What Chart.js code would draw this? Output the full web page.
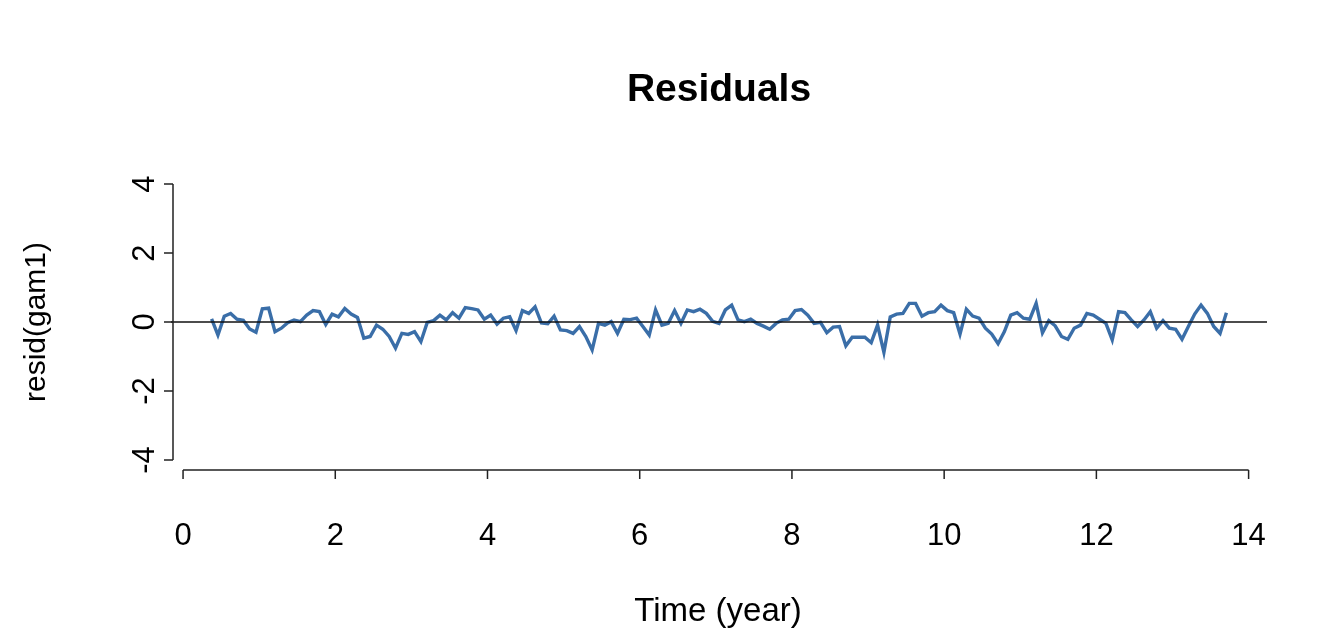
<!DOCTYPE html>
<html>
<head>
<meta charset="utf-8">
<script src="https://cdn.jsdelivr.net/npm/chart.js@4.4.1/dist/chart.umd.min.js"></script>
<style>
html,body{margin:0;padding:0;background:#fff;}
#wrap{width:1335px;height:636px;position:relative;}
</style>
</head>
<body>
<div id="wrap"><canvas id="c" width="1335" height="636"></canvas></div>
<script>
// ---- data ----
const chartTitle = "Residuals";
const xTitle = "Time (year)";
const yTitle = "resid(gam1)";
const xTicks = [0, 2, 4, 6, 8, 10, 12, 14];
const yTicks = [-4, -2, 0, 2, 4];
const startYear = 0.375;          // first observation (years)
const monthStep = 1 / 12;         // monthly observations
const residuals = [
  0.09,-0.38,0.17,0.25,0.08,0.05,-0.20,-0.30,0.38,0.40,-0.28,-0.18,
  -0.02,0.06,0.01,0.20,0.33,0.30,-0.07,0.23,0.15,0.39,0.23,0.13,
  -0.47,-0.42,-0.09,-0.21,-0.42,-0.76,-0.33,-0.36,-0.28,-0.57,-0.01,0.04,
  0.20,0.06,0.27,0.11,0.42,0.39,0.35,0.08,0.20,-0.06,0.11,0.15,
  -0.25,0.33,0.25,0.44,-0.03,-0.05,0.17,-0.23,-0.25,-0.33,-0.13,-0.42,
  -0.81,-0.04,-0.09,0.01,-0.33,0.08,0.07,0.11,-0.13,-0.38,0.35,-0.09,
  -0.04,0.33,-0.04,0.35,0.30,0.37,0.25,0.02,-0.04,0.35,0.49,0.06,
  0.01,0.08,-0.04,-0.12,-0.21,-0.04,0.06,0.08,0.33,0.36,0.20,-0.04,
  -0.01,-0.31,-0.15,-0.13,-0.69,-0.44,-0.44,-0.44,-0.60,-0.09,-0.88,0.15,
  0.23,0.25,0.54,0.54,0.17,0.27,0.30,0.49,0.33,0.27,-0.35,0.37,
  0.17,0.11,-0.18,-0.35,-0.63,-0.28,0.20,0.27,0.11,0.08,0.54,-0.31,
  0.04,-0.11,-0.42,-0.50,-0.18,-0.09,0.25,0.20,0.08,-0.04,-0.52,0.30,
  0.27,0.06,-0.13,0.06,0.30,-0.18,0.04,-0.18,-0.21,-0.50,-0.13,0.23,
  0.49,0.25,-0.13,-0.33,0.27
];
const refLineValue = 0;

// ---- build ----
const points = residuals.map((v, i) => ({ x: startYear + i * monthStep, y: v }));
const tFirst = points[0].x, tLast = points[points.length - 1].x;
const xPad = (tLast - tFirst) * 0.04;
const xMin = tFirst - xPad, xMax = tLast + xPad;
const yMin = -4.32, yMax = 4.32;

const FONT = '"Liberation Sans", Arial, Helvetica, sans-serif';

const rAxes = {
  id: 'rAxes',
  afterDraw(chart) {
    const ctx = chart.ctx;
    const xs = chart.scales.x, ys = chart.scales.y;
    const area = chart.chartArea;
    ctx.save();
    ctx.strokeStyle = '#222';
    ctx.fillStyle = '#000';
    ctx.lineWidth = 1.5;
    // y axis
    const ax = area.left + 2;
    ctx.beginPath();
    ctx.moveTo(ax, ys.getPixelForValue(yTicks[yTicks.length - 1]));
    ctx.lineTo(ax, ys.getPixelForValue(yTicks[0]));
    yTicks.forEach(v => {
      const p = ys.getPixelForValue(v);
      ctx.moveTo(ax, p); ctx.lineTo(ax - 9, p);
    });
    ctx.stroke();
    ctx.font = '31px ' + FONT;
    ctx.textAlign = 'center';
    ctx.textBaseline = 'middle';
    yTicks.forEach(v => {
      const p = ys.getPixelForValue(v);
      ctx.save();
      ctx.translate(ax - 28, p);
      ctx.rotate(-Math.PI / 2);
      ctx.fillText(String(v), 0, 0);
      ctx.restore();
    });
    // x axis
    const ay = area.bottom - 1;
    ctx.beginPath();
    ctx.moveTo(xs.getPixelForValue(xTicks[0]), ay);
    ctx.lineTo(xs.getPixelForValue(xTicks[xTicks.length - 1]), ay);
    xTicks.forEach(v => {
      const p = xs.getPixelForValue(v);
      ctx.moveTo(p, ay); ctx.lineTo(p, ay + 9);
    });
    ctx.stroke();
    xTicks.forEach(v => {
      ctx.fillText(String(v), xs.getPixelForValue(v), ay + 66);
    });
    // titles
    ctx.font = '33px ' + FONT;
    ctx.fillText(xTitle, (area.left + area.right) / 2 - 1, 612);
    ctx.save();
    ctx.translate(37, (area.top + area.bottom) / 2);
    ctx.rotate(-Math.PI / 2);
    ctx.font = '30px ' + FONT;
    ctx.fillText(yTitle, 0, 0);
    ctx.restore();
    ctx.font = 'bold 39px ' + FONT;
    ctx.fillText(chartTitle, (area.left + area.right) / 2, 90);
    ctx.restore();
  }
};

new Chart(document.getElementById('c'), {
  type: 'line',
  data: {
    datasets: [
      {
        label: 'zero',
        data: [{ x: xMin, y: refLineValue }, { x: xMax, y: refLineValue }],
        borderColor: '#111',
        borderWidth: 1.6,
        pointRadius: 0,
        order: 0
      },
      {
        label: 'resid',
        data: points,
        borderColor: '#3a6ea8',
        borderWidth: 3.4,
        pointRadius: 0,
        tension: 0,
        order: 1
      }
    ]
  },
  options: {
    responsive: false,
    animation: false,
    layout: { padding: { left: 171, right: 68, top: 173, bottom: 165 } },
    plugins: { legend: { display: false }, tooltip: { enabled: false }, title: { display: false } },
    scales: {
      x: { type: 'linear', min: xMin, max: xMax, display: false },
      y: { type: 'linear', min: yMin, max: yMax, display: false }
    }
  },
  plugins: [rAxes]
});
</script>
</body>
</html>
